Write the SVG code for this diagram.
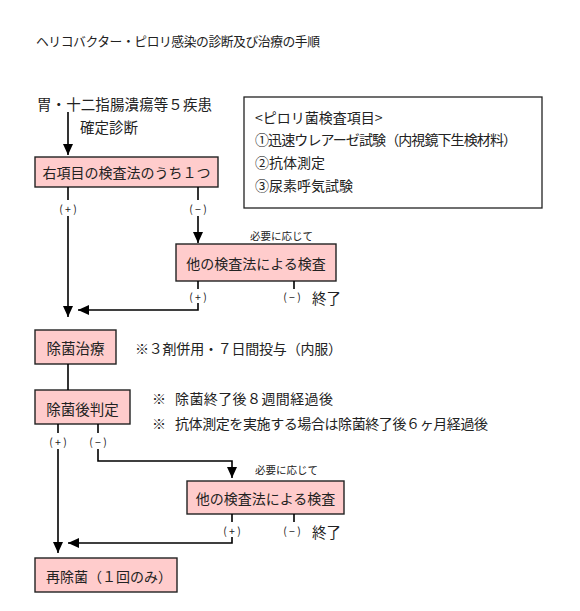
<svg xmlns="http://www.w3.org/2000/svg" width="580" height="611" viewBox="0 0 580 611">
<style>
text{font-family:"Noto Sans CJK JP","Noto Sans CJK SC",sans-serif;fill:#222;dominant-baseline:central}
.t{font-size:14px}
.s{font-size:10.5px}
.p{font-size:10.5px;text-anchor:middle;white-space:pre}
.c{text-anchor:middle}
.box{fill:#FFCCCC;stroke:#222;stroke-width:1.4}
.leg{fill:#fff;stroke:#222;stroke-width:1.3}
.ln{fill:none;stroke:#000;stroke-width:1.6}
</style>
<defs>
<marker id="ah" markerUnits="userSpaceOnUse" markerWidth="12" markerHeight="12" viewBox="0 0 12 12" refX="11" refY="6" orient="auto">
<path d="M0,1 L11,6 L0,11 Z" fill="#000"/>
</marker>
</defs>
<rect width="580" height="611" fill="#fff"/>
<text id="title" x="36" y="40" style="font-size:12.8px" textLength="284">ヘリコバクター・ピロリ感染の診断及び治療の手順</text>
<g id="start">
<text class="t" x="37" y="103" style="font-size:14.5px" textLength="175">胃・十二指腸潰瘍等５疾患</text>
<text class="t" x="80" y="126" style="font-size:14.5px">確定診断</text>
</g>
<g id="box1"><rect class="box" x="35" y="157" width="183" height="30"/><text class="t c" x="126.5" y="172">右項目の検査法のうち１つ</text></g>
<g id="legend"><rect class="leg" x="244" y="97" width="298" height="111"/>
<text class="t" x="255" y="117">&lt;ピロリ菌検査項目&gt;</text>
<text class="t" x="255" y="139" textLength="262">①迅速ウレアーゼ試験（内視鏡下生検材料）</text>
<text class="t" x="255" y="162">②抗体測定</text>
<text class="t" x="255" y="185">③尿素呼気試験</text>
</g>
<g id="box2"><text class="s" x="250" y="235">必要に応じて</text><rect class="box" x="176" y="244" width="160" height="37"/><text class="t c" x="256" y="263">他の検査法による検査</text></g>
<g id="box3"><rect class="box" x="35" y="330" width="81" height="34"/><text class="t c" x="75.5" y="347" style="font-size:14.5px">除菌治療</text>
<text class="t" x="135" y="348" textLength="207">※３剤併用・７日間投与（内服）</text></g>
<g id="box4"><rect class="box" x="35" y="390" width="95" height="34"/><text class="t c" x="82.5" y="408" style="font-size:14.5px">除菌後判定</text>
<text class="t" x="152" y="398">※</text><text class="t" x="175" y="398" textLength="158">除菌終了後８週間経過後</text>
<text class="t" x="152" y="423">※</text><text class="t" x="175" y="423" textLength="313">抗体測定を実施する場合は除菌終了後６ヶ月経過後</text></g>
<g id="box5"><text class="s" x="255" y="469">必要に応じて</text><rect class="box" x="187" y="481" width="157" height="33"/><text class="t c" x="265.5" y="498">他の検査法による検査</text></g>
<g id="box6"><rect class="box" x="35" y="558" width="142" height="34"/><text class="t" x="46" y="576">再除菌（１回のみ）</text></g>
<g id="labels">
<text class="p" x="68" y="208">( + )</text>
<text class="p" x="198" y="208">( − )</text>
<text class="p" x="198" y="296">( + )</text>
<text class="p" x="292" y="296">( − )</text>
<text class="t" x="312" y="297" style="font-size:14.5px">終了</text>
<text class="p" x="58" y="441">( + )</text>
<text class="p" x="98" y="441">( − )</text>
<text class="p" x="232" y="530">( + )</text>
<text class="p" x="292" y="530">( − )</text>
<text class="t" x="312" y="531" style="font-size:14.5px">終了</text>
</g>
<g id="connectors">
<path class="ln" d="M68,112 V155" marker-end="url(#ah)"/>
<path class="ln" d="M68,187 V200"/>
<path class="ln" d="M68,216 V317" marker-end="url(#ah)"/>
<path class="ln" d="M198,187 V200"/>
<path class="ln" d="M198,216 V243" marker-end="url(#ah)"/>
<path class="ln" d="M198,281 V289"/>
<path class="ln" d="M198,303 V310 H78" marker-end="url(#ah)"/>
<path class="ln" d="M294,281 V289"/>
<path class="ln" d="M68,364 V390"/>
<path class="ln" d="M58,424 V433"/>
<path class="ln" d="M58,449 V553" marker-end="url(#ah)"/>
<path class="ln" d="M98,424 V433"/>
<path class="ln" d="M98,449 V461 H232 V478" marker-end="url(#ah)"/>
<path class="ln" d="M232,514 V522"/>
<path class="ln" d="M232,537 V543 H68" marker-end="url(#ah)"/>
<path class="ln" d="M294,514 V522"/>
</g>
</svg>
